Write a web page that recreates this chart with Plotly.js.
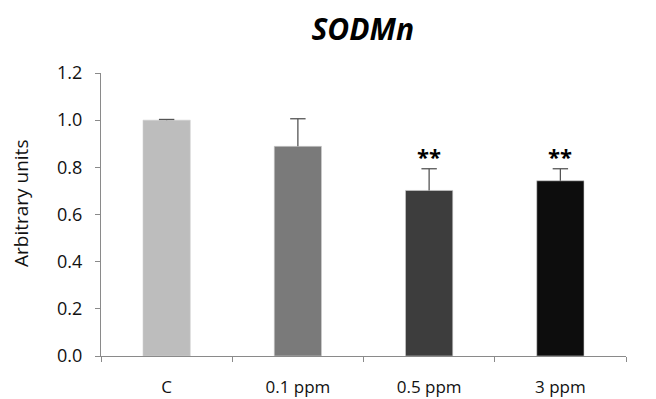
<!DOCTYPE html>
<html><head><meta charset="utf-8">
<script src="https://cdn.plot.ly/plotly-3.0.1.min.js"></script>
<style>body{margin:0;}#c{width:656px;height:399px;}</style>
</head><body><div id="c"></div>
<script>
const categories = ["C", "0.1 ppm", "0.5 ppm", "3 ppm"];
const values = [1.0, 0.889, 0.702, 0.743];
const errors = [0.003, 0.117, 0.092, 0.051];
const signif = ["", "", "**", "**"];
const colors = ["#bdbdbd", "#7a7a7a", "#3d3d3d", "#0d0d0d"];
const yTicks = [0, 0.2, 0.4, 0.6, 0.8, 1.0, 1.2];
const FONT = "Open Sans, Liberation Sans, Arial";

const bars = {
  type: "bar", x: categories, y: values,
  marker: {color: colors, line: {color: "#d0d0d0", width: 0.6}},
  width: 0.36, hoverinfo: "none",
  error_y: {type: "data", array: errors, symmetric: false, arrayminus: errors.map(()=>0),
    color: "#555", thickness: 1.3, width: 0}
};
const caps = {
  type: "scatter", mode: "markers", x: categories, y: values.map((v,i)=>v+errors[i]),
  marker: {symbol: "line-ew", size: 11, line: {color: "#555", width: 1.3}}, hoverinfo: "none"
};
const annotations = categories.map((c,i)=>({
  x: c, y: values[i]+errors[i], yref: "y", xref: "x", text: "<b>"+signif[i]+"</b>", showarrow: false,
  yanchor: "bottom", yshift: -4, font: {family: FONT, size: 22, color: "#000"}
})).filter((a,i)=>signif[i]);
annotations.push({
  text: "Arbitrary units", textangle: -90, showarrow: false,
  xref: "paper", yref: "paper", x: 0, xshift: -80, y: (356-204)/283, yanchor: "middle", xanchor: "center",
  font: {family: FONT, size: 19, color: "#111"}
});
const layout = {
  width: 656, height: 399,
  margin: {l: 101, r: 30, t: 73, b: 43},
  paper_bgcolor: "#fff", plot_bgcolor: "#fff",
  title: {text: "<b><i>SODMn</i></b>", x: 0.553, xanchor: "center", y: 0.925, yref: "container", yanchor: "middle",
    font: {family: FONT, size: 30, color: "#000"}},
  xaxis: {type: "category", showgrid: false, showline: true, linecolor: "#8a8a8a", linewidth: 1,
    ticks: "outside", tickson: "boundaries", ticklen: 5, tickcolor: "#8a8a8a", automargin: false,
    ticklabelstandoff: 16,
    tickfont: {family: FONT, size: 17, color: "#111"}, zeroline: false},
  yaxis: {range: [0, 1.2], tickvals: yTicks, ticktext: yTicks.map(v=>v.toFixed(1)),
    showgrid: false, showline: true, linecolor: "#8a8a8a", linewidth: 1, ticks: "outside", ticklen: 5,
    tickcolor: "#8a8a8a", zeroline: false, automargin: false, ticklabelstandoff: 9,
    tickfont: {family: FONT, size: 18, color: "#111"}},
  annotations: annotations,
  showlegend: false
};
Plotly.newPlot("c", [bars, caps], layout, {displayModeBar: false, staticPlot: true});
</script></body></html>
